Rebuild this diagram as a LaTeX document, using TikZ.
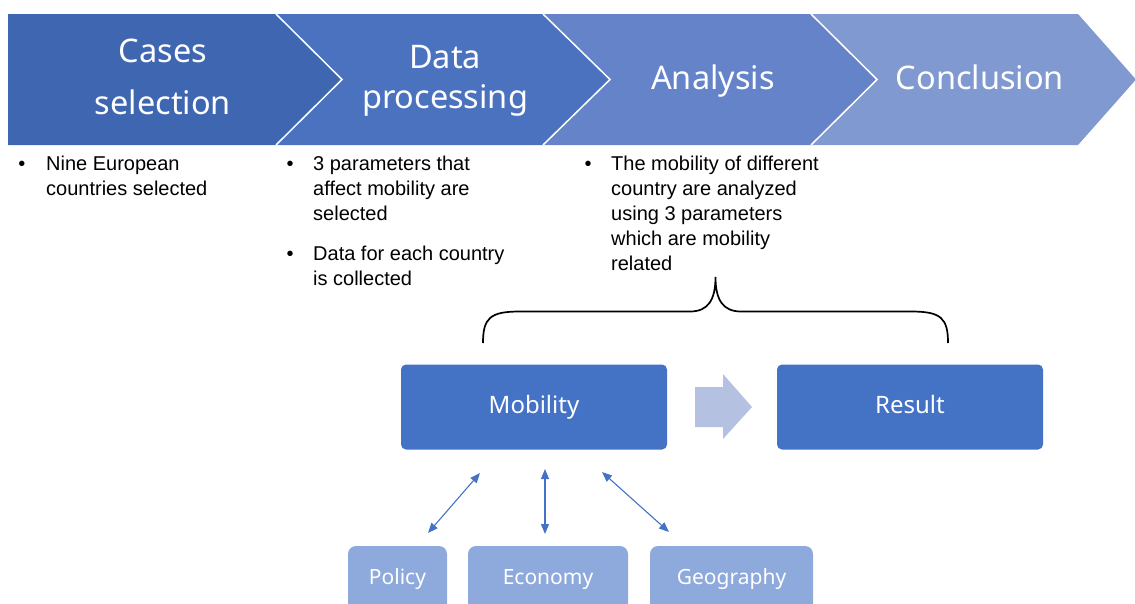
\documentclass[tikz,border=0pt]{standalone}
\usepackage{fontspec}
\setmainfont{Liberation Sans}
\newfontfamily\hfont{Noto Sans}
\usetikzlibrary{arrows.meta}
\definecolor{segA}{HTML}{3F66B1}
\definecolor{segB}{HTML}{4B72BF}
\definecolor{segC}{HTML}{6483C8}
\definecolor{segD}{HTML}{8099D1}
\definecolor{boxblue}{HTML}{4472C4}
\definecolor{lightbox}{HTML}{8EA9DB}
\definecolor{bigarrow}{HTML}{B4C1E1}
\begin{document}
\begin{tikzpicture}[x=1pt,y=-1pt,
  head/.style={font=\hfont\fontsize{32.5}{36}\selectfont, text=white, anchor=base, inner sep=0pt},
  body/.style={font=\fontsize{20}{25}\selectfont, anchor=north west, align=left, inner sep=0pt},
  bul/.style={font=\fontsize{20}{25}\selectfont, anchor=base, inner sep=0pt},
  mainbox/.style={fill=boxblue, rounded corners=5pt, minimum width=266pt, minimum height=85pt, text=white, font=\hfont\fontsize{24}{28}\selectfont, inner sep=0pt, text height=17pt, text depth=5pt},
  factor/.style={fill=lightbox, rounded corners=8pt, minimum height=70pt, text=white, font=\hfont\fontsize{21}{25}\selectfont, inner sep=0pt, text height=15pt, text depth=8pt},
  link/.style={draw=boxblue, line width=1.1pt, {Triangle[length=10pt,width=8pt]}-{Triangle[length=10pt,width=8pt]}},
  sep/.style={draw=white, line width=1.5pt}
]
\useasboundingbox (0,0) rectangle (1135,603);
\clip (0,0) rectangle (1135,603);

% chevron band
\fill[segA] (8,14) -- (276,14) -- (342,79.5) -- (276,145) -- (8,145) -- cycle;
\fill[segB] (276,14) -- (543,14) -- (610,79.5) -- (543,145) -- (276,145) -- (342,79.5) -- cycle;
\fill[segC] (543,14) -- (811,14) -- (877,79.5) -- (811,145) -- (543,145) -- (610,79.5) -- cycle;
\fill[segD] (811,14) -- (1078,14) -- (1136,79.5) -- (1078,145) -- (811,145) -- (877,79.5) -- cycle;
\draw[sep] (276,14) -- (342,79.5) -- (276,145);
\draw[sep] (543,14) -- (610,79.5) -- (543,145);
\draw[sep] (811,14) -- (877,79.5) -- (811,145);

% headers
\node[head] (h1a) at (163,62) {Cases};
\node[head] (h1b) at (163,114) {selection};
\node[head] (h2a) at (445,68) {Data};
\node[head] (h2b) at (445,108) {processing};
\node[head] (h3) at (713,89) {Analysis};
\node[head] (h4) at (980,89) {Conclusion};

% bullets
\node[bul] (b1) at (22,170) {•};
\node[body] (t1) at (46,155.6) {Nine European\\countries selected};
\node[bul] (b2) at (290,170) {•};
\node[body] (t2) at (313,155.6) {3 parameters that\\affect mobility are\\selected};
\node[bul] (b3) at (290,260) {•};
\node[body] (t3) at (313,245.6) {Data for each country\\is collected};
\node[bul] (b4) at (588,170) {•};
\node[body] (t4) at (611,155.6) {The mobility of different\\country are analyzed\\using 3 parameters\\which are mobility\\related};

% brace
\coordinate (brL) at (483,343);
\coordinate (brR) at (948,343);
\coordinate (brT) at (715.5,277);
\draw[line width=1.7pt, black]
  (brL) .. controls (483,318) and (490,311.5) .. (520,311.5)
  -- (690,311.5) .. controls (708,311.5) and (715.5,300) .. (brT)
  .. controls (715.5,300) and (723,311.5) .. (741,311.5)
  -- (911,311.5) .. controls (941,311.5) and (948,318) .. (brR);

% main boxes
\node[mainbox] (mob) at (534,407) {Mobility};
\node[mainbox] (res) at (910,407) {Result};
\fill[bigarrow] (695,387) -- (723,387) -- (723,374) -- (752,407) -- (723,439) -- (723,427) -- (695,427) -- cycle;

% factor boxes
\node[factor, minimum width=99pt] (pol) at (397.5,581) {Policy};
\node[factor, minimum width=160pt] (eco) at (548,581) {Economy};
\node[factor, minimum width=163pt] (geo) at (731.5,581) {Geography};

% links
\coordinate (p1) at (428,533);
\coordinate (p2) at (480,473);
\coordinate (e1) at (545,534);
\coordinate (e2) at (545,469);
\coordinate (g1) at (669,532);
\coordinate (g2) at (602,472);
\draw[link] (p1) -- (p2);
\draw[link] (e1) -- (e2);
\draw[link] (g1) -- (g2);
\end{tikzpicture}
\end{document}
